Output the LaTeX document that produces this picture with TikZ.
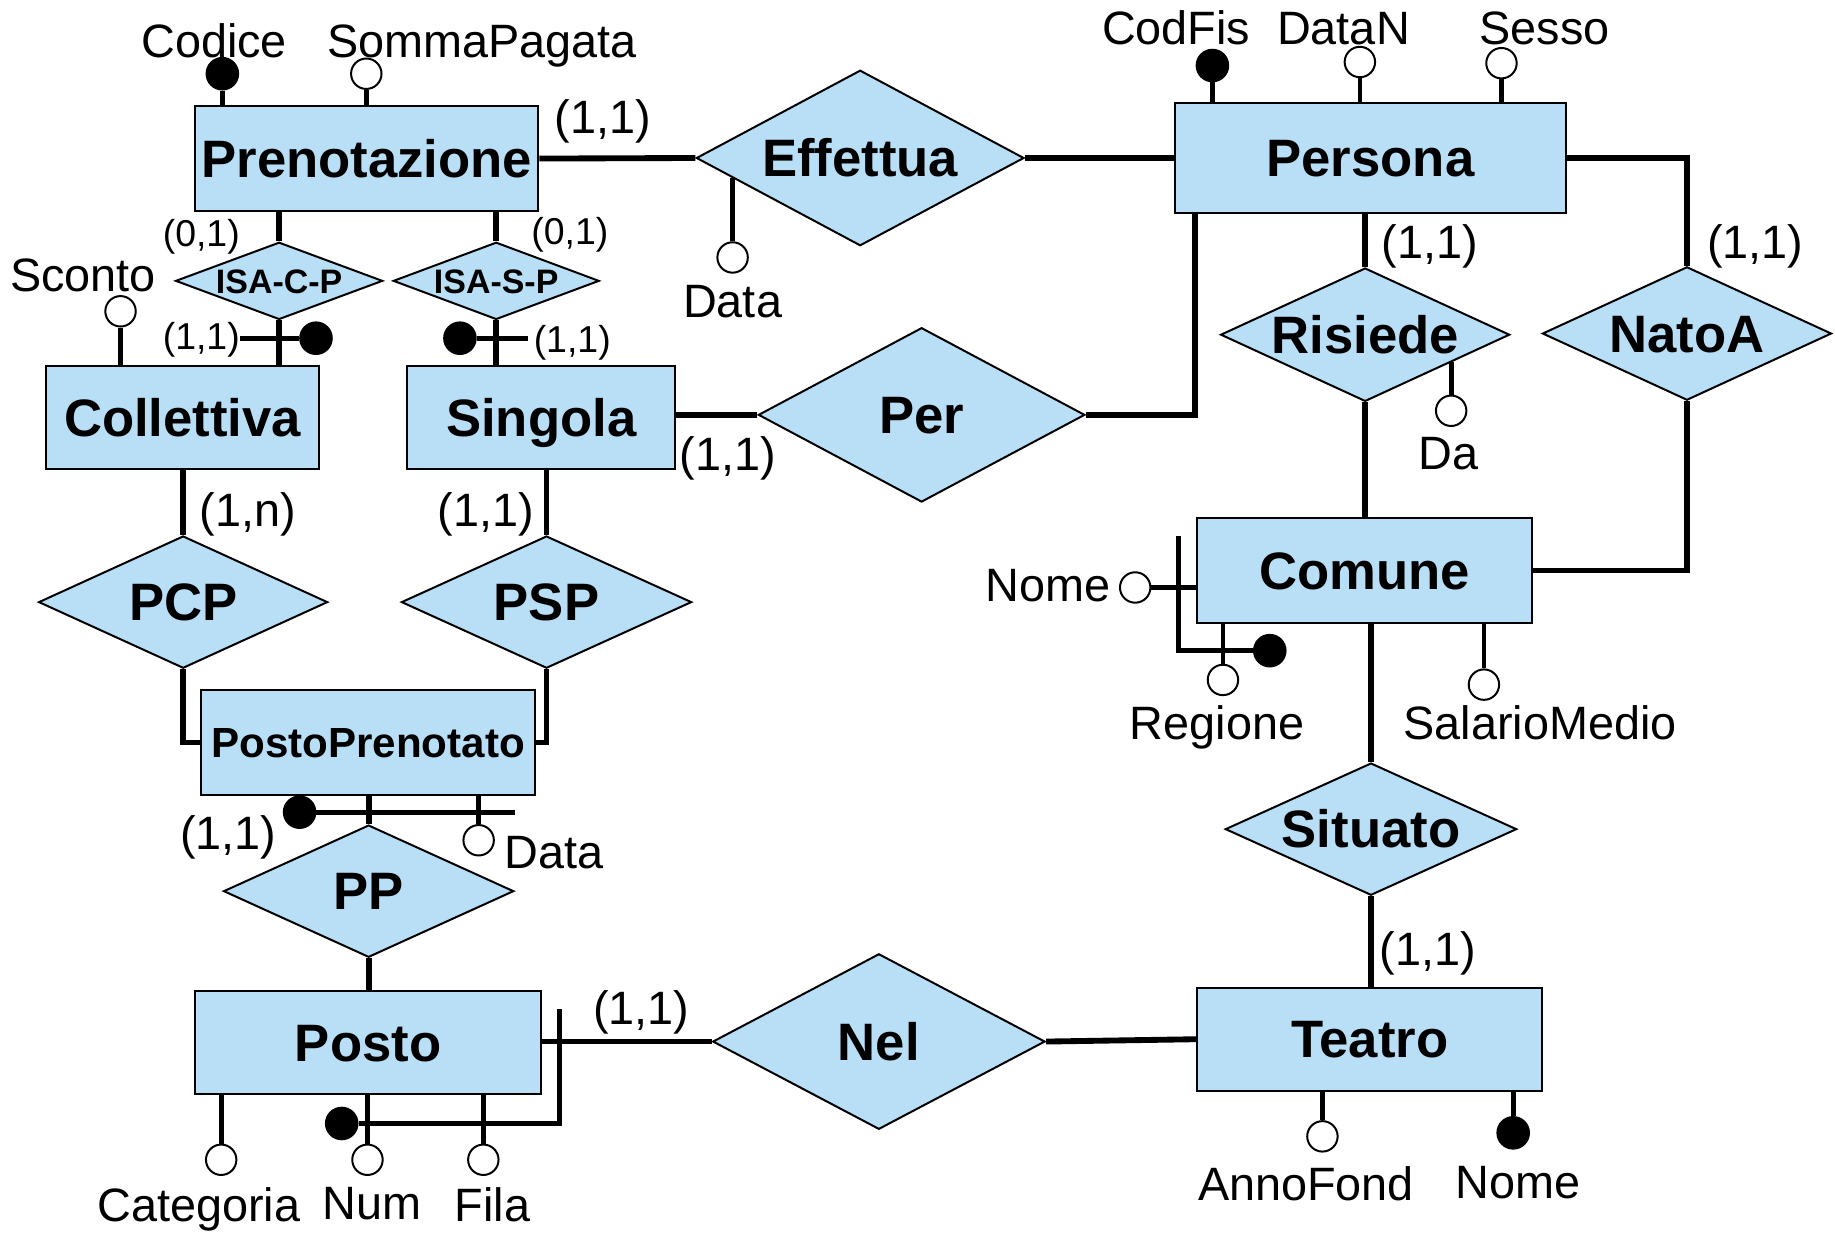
\documentclass[tikz,border=0pt]{standalone}
\usepackage{fontspec}
\setmainfont{Liberation Sans}
\usetikzlibrary{shapes.geometric}
\definecolor{erblue}{RGB}{185,223,247}
\newcommand\erbig{\fontsize{45}{54}\selectfont\bfseries}
\newcommand\ermid{\fontsize{36}{43}\selectfont\bfseries}
\newcommand\erisa{\fontsize{29}{35}\selectfont\bfseries}
\newcommand\erreg{\fontsize{40}{48}\selectfont}
\newcommand\ersml{\fontsize{32}{38}\selectfont}
\begin{document}
\begin{tikzpicture}[x=1pt,y=-1pt,
  ent/.style={draw,line width=1.7pt,fill=erblue,inner sep=0pt,font=\erbig,text height=32pt,text depth=0pt},
  rel/.style={diamond,draw,line width=1.7pt,fill=erblue,inner sep=0pt,font=\erbig,text height=32pt,text depth=0pt},
  conn/.style={line width=5pt},
  alink/.style={line width=4pt},
  oatt/.style={circle,draw,line width=1.7pt,fill=white,minimum size=26pt,inner sep=0pt},
  katt/.style={circle,draw,line width=1.7pt,fill=black,minimum size=27pt,inner sep=0pt},
  lab/.style={font=\erreg,inner sep=0pt,anchor=base},
  card/.style={font=\erreg,inner sep=0pt,anchor=base},
  scard/.style={font=\ersml,inner sep=0pt,anchor=base},
]
\useasboundingbox (0,0) rectangle (1568,1054);

% ---------- entities ----------
\node[ent,minimum width=293pt,minimum height=89pt] (pren) at (313.5,135.5) {Prenotazione};
\node[ent,minimum width=334pt,minimum height=94pt] (pers) at (1171,135) {Persona};
\node[ent,minimum width=234pt,minimum height=88pt] (coll) at (156,357) {Collettiva};
\node[ent,minimum width=229pt,minimum height=88pt] (sing) at (462.5,357) {Singola};
\node[ent,minimum width=285pt,minimum height=89pt,font=\ermid,text height=26pt] (ppe) at (314.5,634.5) {PostoPrenotato};
\node[ent,minimum width=286pt,minimum height=89pt] (com) at (1166,487.5) {Comune};
\node[ent,minimum width=295pt,minimum height=88pt] (posto) at (314.5,891) {Posto};
\node[ent,minimum width=295pt,minimum height=88pt] (teatro) at (1170.5,888) {Teatro};

% ---------- relationships ----------
\node[rel,minimum width=280pt,minimum height=150pt,aspect=1.87] (eff) at (735,135) {Effettua};
\node[rel,minimum width=177pt,minimum height=66pt,aspect=2.68,font=\erisa,text height=21pt] (isac) at (238.5,240) {ISA-C-P};
\node[rel,minimum width=176pt,minimum height=66pt,aspect=2.67,font=\erisa,text height=21pt] (isas) at (424,240) {ISA-S-P};
\node[rel,minimum width=279pt,minimum height=149pt,aspect=1.87] (per) at (787.5,354.5) {Per};
\node[rel,minimum width=247pt,minimum height=114pt,aspect=2.17] (ris) at (1166.5,286) {Risiede};
\node[rel,minimum width=247pt,minimum height=114pt,aspect=2.17] (nato) at (1441.5,285) {NatoA};
\node[rel,minimum width=247pt,minimum height=113pt,aspect=2.19] (pcp) at (156.5,514.5) {PCP};
\node[rel,minimum width=248pt,minimum height=113pt,aspect=2.19] (psp) at (467,514.5) {PSP};
\node[rel,minimum width=249pt,minimum height=113pt,aspect=2.2] (sit) at (1171.5,708.5) {Situato};
\node[rel,minimum width=248pt,minimum height=113pt,aspect=2.19] (ppr) at (315,761.5) {PP};
\node[rel,minimum width=284pt,minimum height=150pt,aspect=1.89] (nel) at (751,890) {Nel};

% ---------- connectors ----------
\draw[conn] (pren.east) -- (eff.west);
\draw[conn] (eff.east) -- (pers.west);
\draw[conn] (isac.north) -- (isac.north |- pren.south);
\draw[conn] (isas.north) -- (isas.north |- pren.south);
\draw[conn] (isac.south) -- (isac.south |- coll.north);
\draw[conn] (isas.south) -- (isas.south |- sing.north);
\draw[conn] (per.west) -- (per.west -| sing.east);
\coordinate (persX) at (1021,0);
\draw[conn] (per.east) -- (per.east -| persX) -- (persX |- pers.south);
\draw[conn] (ris.north) -- (ris.north |- pers.south);
\draw[conn] (ris.south) -- (ris.south |- com.north);
\draw[conn] (pers.east) -- (pers.east -| nato.north) -- (nato.north);
\draw[conn] (nato.south) -- (nato.south |- com.east) -- (com.east);
\draw[conn] (pcp.north) -- (pcp.north |- coll.south);
\draw[conn] (psp.north) -- (psp.north |- sing.south);
\draw[conn] (pcp.south) -- (pcp.south |- ppe.west) -- (ppe.west);
\draw[conn] (psp.south) -- (psp.south |- ppe.east) -- (ppe.east);
\draw[conn] (ppr.north) -- (ppr.north |- ppe.south);
\draw[conn] (ppr.south) -- (ppr.south |- posto.north);
\draw[conn] (nel.west) -- (nel.west -| posto.east);
\draw[conn] (nel.east) -- (teatro.west);
\draw[conn] (sit.north) -- (sit.north |- com.south);
\draw[conn] (sit.south) -- (sit.south |- teatro.north);

% ---------- attributes: Prenotazione ----------
\node[katt] (aCod) at (190,63) {};
\draw[alink] (aCod.south) -- (aCod.south |- pren.north);
\node[lab] (tCod) at (183,49) {Codice};
\node[oatt] (aSom) at (313,63) {};
\draw[alink] (aSom.south) -- (aSom.south |- pren.north);
\node[lab] (tSom) at (412,49) {SommaPagata};

% Collettiva
\node[oatt] (aSco) at (103,266) {};
\draw[alink] (aSco.south) -- (aSco.south |- coll.north);
\node[lab] (tSco) at (71,249) {Sconto};

% ISA crossbars
\node[katt] (kIC) at (270,289) {};
\coordinate (icb) at (205,289);
\draw[alink] (icb) -- (kIC.west);
\node[katt] (kIS) at (393,289) {};
\coordinate (isb) at (451,289);
\draw[alink] (kIS.east) -- (isb);

% Effettua Data
\path (eff.west) -- (eff.south) coordinate[pos=0.2214] (effD);
\node[oatt] (aDataE) at (626,220) {};
\draw[alink] (aDataE.north) -- (aDataE.north |- effD);
\node[lab] (tDataE) at (626,271) {Data};

% Persona
\node[katt] (aCF) at (1036,56) {};
\draw[alink] (aCF.south) -- (aCF.south |- pers.north);
\node[lab] (tCF) at (1005,38) {CodFis};
\node[oatt] (aDN) at (1162,53) {};
\draw[alink] (aDN.south) -- (aDN.south |- pers.north);
\node[lab] (tDN) at (1148,38) {DataN};
\node[oatt] (aSe) at (1283,54) {};
\draw[alink] (aSe.south) -- (aSe.south |- pers.north);
\node[lab] (tSe) at (1320,38) {Sesso};

% Risiede Da
\path (ris.east) -- (ris.south) coordinate[pos=0.405] (risD);
\node[oatt] (aDa) at (1240,351) {};
\draw[alink] (aDa.north) -- (aDa.north |- risD);
\node[lab] (tDa) at (1238,401) {Da};

% Comune
\node[oatt] (aNomeC) at (970,502) {};
\draw[alink] (aNomeC.east) -- (aNomeC.east -| com.west);
\node[lab,anchor=base east] (tNomeC) at (949,514) {Nome};
\node[katt] (kCom) at (1085,556) {};
\coordinate (cb1) at (1007,458);
\draw[alink] (cb1) -- (cb1 |- kCom) -- (kCom.west);
\node[oatt] (aReg) at (1045,581) {};
\draw[alink] (aReg.north) -- (aReg.north |- com.south);
\node[lab] (tReg) at (1040,632) {Regione};
\node[oatt] (aSal) at (1268,585) {};
\draw[alink] (aSal.north) -- (aSal.north |- com.south);
\node[lab] (tSal) at (1316,632) {SalarioMedio};

% PostoPrenotato
\node[katt] (kPP) at (256,694) {};
\coordinate (ppb) at (440,694);
\draw[alink] (kPP.east) -- (ppb);
\node[oatt] (aDataP) at (409,718) {};
\draw[alink] (aDataP.north) -- (aDataP.north |- ppe.south);
\node[lab,anchor=base west] (tDataP) at (431,742) {Data};

% Posto
\node[oatt] (aCat) at (189,991) {};
\draw[alink] (aCat.north) -- (aCat.north |- posto.south);
\node[lab] (tCat) at (170,1044) {Categoria};
\node[oatt] (aNum) at (314,991) {};
\draw[alink] (aNum.north) -- (aNum.north |- posto.south);
\node[lab] (tNum) at (318,1042) {Num};
\node[oatt] (aFila) at (413,991) {};
\draw[alink] (aFila.north) -- (aFila.north |- posto.south);
\node[lab] (tFila) at (421,1044) {Fila};
\node[katt] (kPo) at (292,960) {};
\coordinate (pb) at (478,862);
\draw[alink] (kPo.east) -- (kPo.east -| pb) -- (pb);

% Teatro
\node[oatt] (aAnno) at (1130,971) {};
\draw[alink] (aAnno.north) -- (aAnno.north |- teatro.south);
\node[lab] (tAnno) at (1116,1026) {AnnoFond};
\node[katt] (kTea) at (1293,968) {};
\draw[alink] (kTea.north) -- (kTea.north |- teatro.south);
\node[lab] (tNomeT) at (1297,1024) {Nome};

% ---------- cardinalities ----------
\node[card] (c1) at (515,114) {(1,1)};
\node[scard] (c2) at (172,211) {(0,1)};
\node[scard] (c3) at (487,209) {(0,1)};
\node[scard] (c4) at (172,299) {(1,1)};
\node[scard] (c5) at (489,301) {(1,1)};
\node[card] (c6) at (622,402) {(1,1)};
\node[card] (c7) at (1222,221) {(1,1)};
\node[card] (c8) at (1500,221) {(1,1)};
\node[card] (c9) at (212,450) {(1,n)};
\node[card] (c10) at (415,450) {(1,1)};
\node[card] (c11) at (195,726) {(1,1)};
\node[card] (c12) at (1220,825) {(1,1)};
\node[card] (c13) at (548,875) {(1,1)};
\end{tikzpicture}
\end{document}
